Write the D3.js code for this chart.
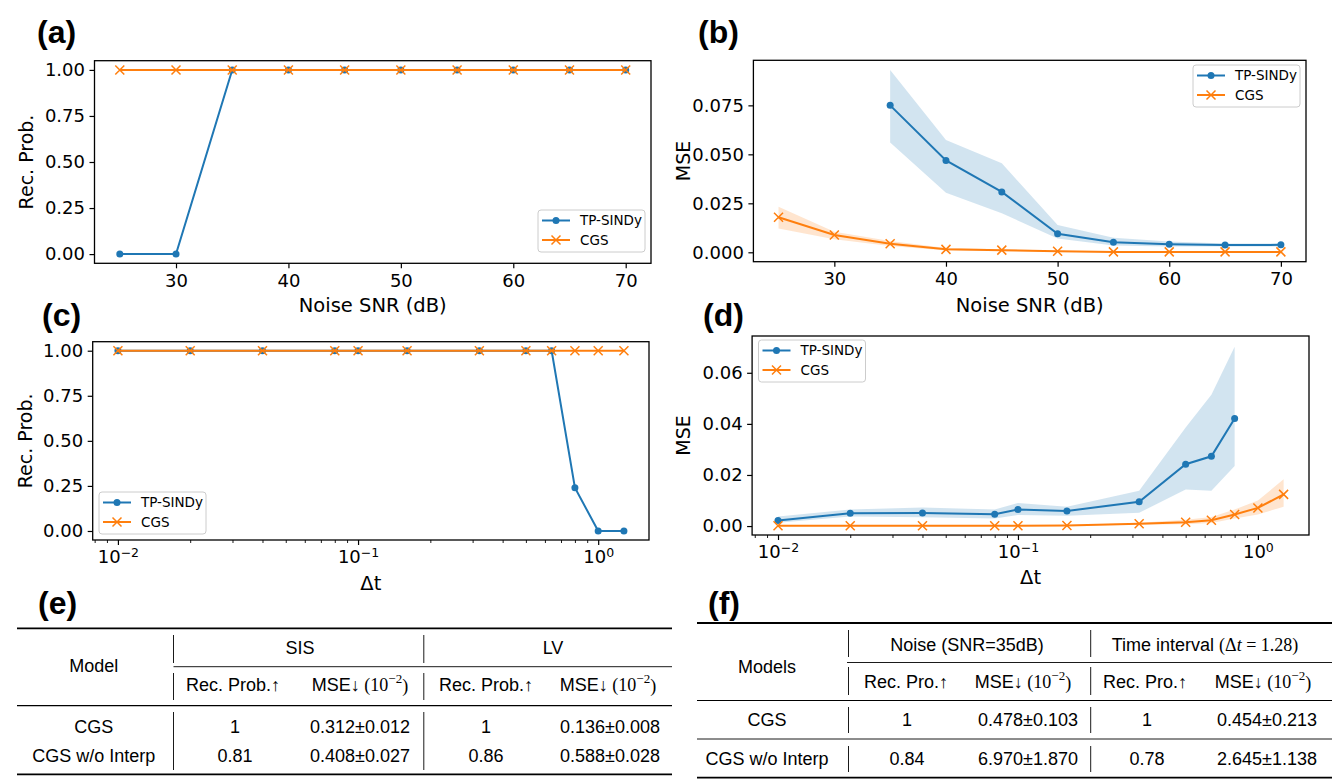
<!DOCTYPE html>
<html>
<head>
<meta charset="utf-8">
<script src="https://cdn.jsdelivr.net/npm/d3@7"></script>
<style>
body{margin:0;background:#fff;}
svg{font-family:"DejaVu Sans",sans-serif;}
svg text{fill:#000;}
</style>
</head>
<body>
<svg id="fig" width="1337" height="784"></svg>
<script>
// ---- data: noise sweep ----
const snr = [25,30,35,40,45,50,55,60,65,70];
const snrTicks = [30,40,50,60,70];
const recSnrTP  = [0,0,1,1,1,1,1,1,1,1];
const recSnrCGS = [1,1,1,1,1,1,1,1,1,1];
const mseSnrTP   = [null,null,0.0750,0.0469,0.0308,0.0095,0.0051,0.0041,0.0037,0.0038];
const mseSnrTPLo = [null,null,0.0561,0.0304,0.0199,0.0071,0.0035,0.0029,0.0030,0.0030];
const mseSnrTPHi = [null,null,0.0930,0.0573,0.0454,0.0139,0.0074,0.0055,0.0045,0.0045];
const mseSnrCGS   = [0.0179,0.0088,0.0044,0.0015,0.0011,0.0005,0.0002,0.0002,0.0002,0.0002];
const mseSnrCGSLo = [0.0122,0.0067,0.0032,0.0009,0.0007,0.0003,0.0001,0.0001,0.0001,0.0001];
const mseSnrCGSHi = [0.0233,0.0105,0.0058,0.0022,0.0016,0.0008,0.0003,0.0003,0.0003,0.0003];

// ---- data: time interval sweep ----
const dt = [0.01,0.02,0.04,0.08,0.1,0.16,0.32,0.5,0.64,0.8,1.0,1.28];
const dtTP = [0.01,0.02,0.04,0.08,0.1,0.16,0.32,0.5,0.64,0.8];
const recDtTP  = [1,1,1,1,1,1,1,1,1,0.24,0,0];
const recDtCGS = [1,1,1,1,1,1,1,1,1,1,1,1];
const mseDtTP   = [0.0022,0.0050,0.0051,0.0046,0.0065,0.0059,0.0095,0.0242,0.0273,0.0421];
const mseDtTPLo = [0.0013,0.0037,0.0034,0.0030,0.0043,0.0040,0.0052,0.0143,0.0138,0.0235];
const mseDtTPHi = [0.0037,0.0065,0.0073,0.0065,0.0090,0.0076,0.0138,0.0386,0.0514,0.0702];
const mseDtCGS   = [0.0001,0.0001,0.0001,0.0001,0.0001,0.0002,0.0009,0.0015,0.0023,0.0045,0.0071,0.0124];
const mseDtCGSLo = [0,0,0,0,0,0.0001,0.0005,0.0007,0.0012,0.0030,0.0045,0.0076];
const mseDtCGSHi = [0.0002,0.0002,0.0002,0.0002,0.0002,0.0003,0.0013,0.0025,0.0035,0.0065,0.0100,0.0183];
const dtTicks = [0.01,0.1,1];
const dtTickExp = ["\u22122","\u22121","0"];

const recTicks = [0,0.25,0.5,0.75,1];
const mseSnrTicks = [0,0.025,0.05,0.075];
const mseDtTicks = [0,0.02,0.04,0.06];

// ---- data: tables ----
const tableRows = ["CGS","CGS w/o Interp"];
const eGroups = ["SIS","LV"];
const eRecSIS = ["1","0.81"];
const eMseSIS = ["0.312\u00b10.012","0.408\u00b10.027"];
const eRecLV  = ["1","0.86"];
const eMseLV  = ["0.136\u00b10.008","0.588\u00b10.028"];
const fRecNoise = ["1","0.84"];
const fMseNoise = ["0.478\u00b10.103","6.970\u00b11.870"];
const fRecTime  = ["1","0.78"];
const fMseTime  = ["0.454\u00b10.213","2.645\u00b11.138"];

const blue = "#1f77b4", orange = "#ff7f0e";
const sans = "'Liberation Sans', Arial, sans-serif";
const serif = "'Liberation Serif', 'DejaVu Serif', serif";
const svg = d3.select("#fig");

function xMark(sel, color){
  sel.append("path").attr("d","M-4.5,-4.5L4.5,4.5M-4.5,4.5L4.5,-4.5")
    .attr("stroke",color).attr("stroke-width",1.5).attr("fill","none");
}

function panel(p){
  const g = svg.append("g");
  const x = (p.log ? d3.scaleLog() : d3.scaleLinear()).domain(p.xd).range([p.l,p.r]);
  const y = d3.scaleLinear().domain(p.yd).range([p.b,p.t]);

  const sets = p.series.map(s => s.xs.map((xv,i) => ({x:xv, v:s.v[i],
      lo:s.lo ? s.lo[i] : null, hi:s.hi ? s.hi[i] : null})));

  // shaded bands
  p.series.forEach((s,k) => {
    if(!s.lo) return;
    g.append("path").datum(sets[k])
      .attr("fill",s.color).attr("fill-opacity",0.2).attr("stroke","none")
      .attr("d", d3.area().defined(d => d.v != null)
        .x(d => x(d.x)).y0(d => y(d.lo)).y1(d => y(d.hi)));
  });

  // lines + markers
  p.series.forEach((s,k) => {
    const pts = sets[k].filter(d => d.v != null);
    g.append("path").datum(pts)
      .attr("fill","none").attr("stroke",s.color).attr("stroke-width",2)
      .attr("d", d3.line().x(d => x(d.x)).y(d => y(d.v)));
    const m = g.selectAll(null).data(pts).enter().append("g")
      .attr("transform", d => `translate(${x(d.x)},${y(d.v)})`);
    if(s.marker === "o") m.append("circle").attr("r",3.5).attr("fill",s.color);
    else xMark(m, s.color);
  });

  // axes
  const xa = g.append("g").attr("transform",`translate(0,${p.b})`)
    .call(d3.axisBottom(x).tickValues(p.xt).tickSize(5).tickPadding(5.5)
      .tickFormat(p.log ? () => "" : d3.format("d")));
  if(p.log){
    xa.selectAll(".tick text").each(function(d,i){
      const t = d3.select(this).text("10");
      t.append("tspan").attr("dy","-0.5em").attr("font-size",12.5).text(dtTickExp[i]);
    });
    const minor = [];
    [0.001,0.01,0.1,1].forEach(dec => { for(let k=2;k<=9;k++){ const v=k*dec;
      if(v>p.xd[0] && v<p.xd[1]) minor.push(v); } });
    g.append("g").attr("transform",`translate(0,${p.b})`)
      .call(d3.axisBottom(x).tickValues(minor).tickSize(3).tickFormat(""))
      .call(a => a.select(".domain").remove())
      .selectAll("line").attr("stroke","#000").attr("stroke-width",0.9);
  }
  const ya = g.append("g").attr("transform",`translate(${p.l},0)`)
    .call(d3.axisLeft(y).tickValues(p.yt).tickSize(5).tickPadding(4.5).tickFormat(d3.format(p.yfmt)));
  [xa,ya].forEach(a => {
    a.select(".domain").remove();
    a.selectAll("line").attr("stroke","#000").attr("stroke-width",1.2);
    a.selectAll("text").attr("font-size",18).attr("font-family","DejaVu Sans").attr("fill","#000");
  });

  // frame
  g.append("rect").attr("x",p.l).attr("y",p.t).attr("width",p.r-p.l).attr("height",p.b-p.t)
    .attr("fill","none").attr("stroke","#000").attr("stroke-width",1.3);

  // axis labels
  g.append("text").attr("x",(p.l+p.r)/2).attr("y",p.xly).attr("text-anchor","middle")
    .attr("font-size",19.5).text(p.xlabel);
  g.append("text").attr("transform",`translate(${p.ylx},${(p.t+p.b)/2}) rotate(-90)`)
    .attr("text-anchor","middle").attr("font-size",19).text(p.ylabel);

  // panel tag
  g.append("text").attr("x",p.tag[1]).attr("y",p.tag[2])
    .attr("font-family",sans).attr("font-weight","bold")
    .attr("font-size",32).text(p.tag[0]);

  // legend
  const lg = g.append("g").attr("transform",`translate(${p.leg[0]},${p.leg[1]})`);
  lg.append("rect").attr("width",107).attr("height",42).attr("rx",3)
    .attr("fill","#fff").attr("fill-opacity",0.8).attr("stroke","#cccccc").attr("stroke-width",1);
  p.series.forEach((s,k) => {
    const yy = 10.5 + k*19.5;
    lg.append("line").attr("x1",4).attr("x2",32).attr("y1",yy).attr("y2",yy)
      .attr("stroke",s.color).attr("stroke-width",2);
    const m = lg.append("g").attr("transform",`translate(18,${yy})`);
    if(s.marker === "o") m.append("circle").attr("r",3.5).attr("fill",s.color);
    else xMark(m, s.color);
    lg.append("text").attr("x",42).attr("y",yy).attr("dy","0.36em")
      .attr("font-size",13.5).text(s.name);
  });
}

// (a)
panel({l:94.5, r:651, t:60.7, b:263.3, xd:[22.75,72.25], yd:[-0.05,1.05],
  xt:snrTicks, yt:recTicks, yfmt:".2f", xlabel:"Noise SNR (dB)", ylabel:"Rec. Prob.",
  xly:312, ylx:33, tag:["(a)",37,43], leg:[538,210],
  series:[{name:"TP-SINDy", xs:snr, v:recSnrTP, color:blue, marker:"o"},
          {name:"CGS", xs:snr, v:recSnrCGS, color:orange, marker:"x"}]});
// (b)
panel({l:753.4, r:1306, t:60.3, b:261.7, xd:[22.75,72.25], yd:[-0.0048,0.098],
  xt:snrTicks, yt:mseSnrTicks, yfmt:".3f", xlabel:"Noise SNR (dB)", ylabel:"MSE",
  xly:312, ylx:690, tag:["(b)",698,43], leg:[1193,65],
  series:[{name:"TP-SINDy", xs:snr, v:mseSnrTP, lo:mseSnrTPLo, hi:mseSnrTPHi, color:blue, marker:"o"},
          {name:"CGS", xs:snr, v:mseSnrCGS, lo:mseSnrCGSLo, hi:mseSnrCGSHi, color:orange, marker:"x"}]});
// (c)
panel({log:true, l:92.7, r:649, t:341.7, b:540, xd:[Math.pow(10,-2.105),Math.pow(10,0.2116)], yd:[-0.05,1.05],
  xt:dtTicks, yt:recTicks, yfmt:".2f", xlabel:"\u0394t", ylabel:"Rec. Prob.",
  xly:590, ylx:32, tag:["(c)",42,326], leg:[99,492],
  series:[{name:"TP-SINDy", xs:dt, v:recDtTP, color:blue, marker:"o"},
          {name:"CGS", xs:dt, v:recDtCGS, color:orange, marker:"x"}]});
// (d)
panel({log:true, l:752.1, r:1309, t:336, b:535, xd:[Math.pow(10,-2.108),Math.pow(10,0.213)], yd:[-0.0035,0.0744],
  xt:dtTicks, yt:mseDtTicks, yfmt:".2f", xlabel:"\u0394t", ylabel:"MSE",
  xly:584, ylx:690, tag:["(d)",703,326], leg:[758.5,340],
  series:[{name:"TP-SINDy", xs:dtTP, v:mseDtTP, lo:mseDtTPLo, hi:mseDtTPHi, color:blue, marker:"o"},
          {name:"CGS", xs:dt, v:mseDtCGS, lo:mseDtCGSLo, hi:mseDtCGSHi, color:orange, marker:"x"}]});

// ---- tables ----
function hline(g, x1, x2, y, w){
  g.append("line").attr("x1",x1).attr("x2",x2).attr("y1",y).attr("y2",y)
    .attr("stroke","#000").attr("stroke-width",w);
}
function vline(g, x, y1, y2){
  g.append("line").attr("x1",x).attr("x2",x).attr("y1",y1).attr("y2",y2)
    .attr("stroke","#000").attr("stroke-width",0.9);
}
function cell(g, x, y, s){
  return g.append("text").attr("x",x).attr("y",y).attr("dy","0.36em").attr("text-anchor","middle")
    .attr("font-family",sans).attr("font-size",18).text(s);
}
function arrowHead(g, x, y, label, arrow){
  const t = cell(g, x, y, label);
  t.append("tspan").attr("font-family",serif).attr("font-size",18).text(arrow);
  return t;
}
function mseHead(g, x, y){
  const t = cell(g, x, y, "MSE");
  t.append("tspan").attr("font-family",serif).attr("font-size",18).text("\u2193 (10");
  t.append("tspan").attr("font-family",serif).attr("font-size",13).attr("dy","-0.62em").text("\u22122");
  t.append("tspan").attr("font-family",serif).attr("font-size",18).attr("dy","0.45em").text(")");
}

// (e)
{
  const g = svg.append("g");
  g.append("text").attr("x",38).attr("y",614).attr("font-family",sans).attr("font-weight","bold")
    .attr("font-size",32).text("(e)");
  hline(g,17,672,628.3,1.8);
  hline(g,173.5,672,666.7,0.9);
  hline(g,17,672,705.7,1.2);
  hline(g,17,672,774.3,1.8);
  [173.5,423.8].forEach(x => { vline(g,x,635,663); vline(g,x,673,700); vline(g,x,712,770); });
  cell(g,93.7,666,"Model");
  cell(g,300,648,eGroups[0]);
  cell(g,553,648,eGroups[1]);
  arrowHead(g,233,685,"Rec. Prob.","\u2191");
  mseHead(g,360,685);
  arrowHead(g,486,685,"Rec. Prob.","\u2191");
  mseHead(g,608,685);
  const ys = [726.7,755.7];
  tableRows.forEach((r,i) => {
    cell(g,93.7,ys[i],r);
    cell(g,235,ys[i],eRecSIS[i]);
    cell(g,360,ys[i],eMseSIS[i]);
    cell(g,486,ys[i],eRecLV[i]);
    cell(g,610,ys[i],eMseLV[i]);
  });
}

// (f)
{
  const g = svg.append("g");
  g.append("text").attr("x",708).attr("y",614).attr("font-family",sans).attr("font-weight","bold")
    .attr("font-size",32).text("(f)");
  hline(g,697,1332,623,1.8);
  hline(g,847,1332,662.5,0.9);
  hline(g,697,1332,700.5,1.2);
  hline(g,697,1332,739,0.9);
  hline(g,697,1332,777.7,1.8);
  [848.5,1090.7].forEach(x => { vline(g,x,630,657); vline(g,x,667,695); vline(g,x,707,733); vline(g,x,746,772); });
  cell(g,767,667,"Models");
  cell(g,967,645,"Noise (SNR=35dB)");
  const th = cell(g,1205,645,"Time interval ");
  th.append("tspan").attr("font-family",serif).attr("font-size",18).text("(\u0394");
  th.append("tspan").attr("font-family",serif).attr("font-size",18).attr("font-style","italic").text("t");
  th.append("tspan").attr("font-family",serif).attr("font-size",18).text(" = 1.28)");
  arrowHead(g,906,682,"Rec. Pro.","\u2191");
  mseHead(g,1023,682);
  arrowHead(g,1145,682,"Rec. Pro.","\u2191");
  mseHead(g,1263,682);
  const ys = [720,759];
  tableRows.forEach((r,i) => {
    cell(g,767,ys[i],r);
    cell(g,907,ys[i],fRecNoise[i]);
    cell(g,1028,ys[i],fMseNoise[i]);
    cell(g,1147,ys[i],fRecTime[i]);
    cell(g,1267,ys[i],fMseTime[i]);
  });
}
</script>
</body>
</html>
